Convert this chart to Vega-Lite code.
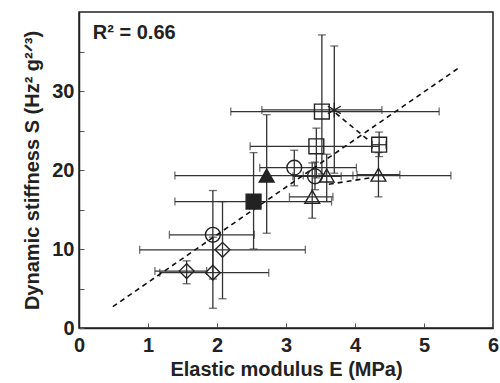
{
  "$schema": "https://vega.github.io/schema/vega-lite/v6.json",
  "width": 414,
  "height": 316,
  "autosize": {"type": "none"},
  "padding": {"left": 79, "top": 12, "right": 7, "bottom": 55},
  "background": "white",
  "config": {
    "view": {"stroke": "#222", "strokeWidth": 1.5},
    "font": "Liberation Sans",
    "axis": {
      "grid": false,
      "domainColor": "#222",
      "domainWidth": 1.5,
      "tickColor": "#555",
      "tickSize": -5,
      "tickWidth": 1,
      "labelFlush": false,
      "labelFont": "Liberation Sans",
      "labelFontWeight": "bold",
      "labelFontSize": 20,
      "labelColor": "#222",
      "titleFont": "Liberation Sans",
      "titleFontWeight": "bold",
      "titleFontSize": 20,
      "titleColor": "#222"
    }
  },
  "datasets": {
    "pts": [
      {"x": 1.56, "y": 7.2, "xlo": 1.1, "xhi": 1.85, "ylo": 5.6, "yhi": 8.5, "series": "diamond"},
      {"x": 1.94, "y": 7.0, "xlo": 1.17, "xhi": 2.75, "ylo": 2.5, "yhi": 11.5, "series": "diamond"},
      {"x": 1.94, "y": 11.8, "xlo": 1.31, "xhi": 2.54, "ylo": 6.2, "yhi": 17.4, "series": "circle"},
      {"x": 2.08, "y": 9.9, "xlo": 0.88, "xhi": 3.28, "ylo": 3.7, "yhi": 16.0, "series": "diamond"},
      {"x": 2.53, "y": 16.0, "xlo": 1.39, "xhi": 3.66, "ylo": 10.0, "yhi": 22.2, "series": "filled square"},
      {"x": 2.72, "y": 19.3, "xlo": 1.39, "xhi": 5.39, "ylo": 12.0, "yhi": 27.0, "series": "filled triangle"},
      {"x": 3.12, "y": 20.3, "xlo": 2.62, "xhi": 4.02, "ylo": 18.0, "yhi": 22.5, "series": "circle"},
      {"x": 3.52, "y": 27.4, "xlo": 2.2, "xhi": 5.22, "ylo": 19.5, "yhi": 37.1, "series": "open square"},
      {"x": 3.70, "y": 27.6, "xlo": 2.65, "xhi": 4.39, "ylo": 19.6, "yhi": 35.7, "series": "star"},
      {"x": 3.44, "y": 23.0, "xlo": 2.48, "xhi": 4.35, "ylo": 19.0, "yhi": 25.3, "series": "open square"},
      {"x": 4.35, "y": 23.2, "xlo": 4.25, "xhi": 4.45, "ylo": 21.7, "yhi": 24.8, "series": "open square"},
      {"x": 4.34, "y": 19.4, "xlo": 4.03, "xhi": 4.65, "ylo": 16.6, "yhi": 22.2, "series": "open triangle"},
      {"x": 3.38, "y": 16.6, "xlo": 3.05, "xhi": 3.68, "ylo": 13.9, "yhi": 20.9, "series": "open triangle"},
      {"x": 3.59, "y": 19.3, "xlo": 3.25, "xhi": 3.97, "ylo": 16.0, "yhi": 22.0, "series": "open triangle"},
      {"x": 3.42, "y": 19.2, "xlo": 3.1, "xhi": 3.8, "ylo": 17.5, "yhi": 21.0, "series": "circle"}
    ],
    "lines": [
      {"x": 0.49, "y": 2.7, "seg": "fit"},
      {"x": 5.5, "y": 32.9, "seg": "fit"},
      {"x": 3.72, "y": 27.2, "seg": "a"},
      {"x": 4.22, "y": 23.6, "seg": "a"},
      {"x": 3.62, "y": 18.2, "seg": "b"},
      {"x": 4.22, "y": 19.0, "seg": "b"}
    ],
    "note": [{"x": 0.2, "y": 37.3, "label": "R² = 0.66"}]
  },
  "layer": [
    {
      "data": {"name": "pts"},
      "mark": {"type": "rule", "color": "#333", "strokeWidth": 1.3},
      "encoding": {
        "x": {"field": "xlo", "type": "quantitative", "scale": {"domain": [0, 6], "nice": false},
          "axis": {"values": [0, 0.5, 1, 1.5, 2, 2.5, 3, 3.5, 4, 4.5, 5, 5.5, 6], "labelExpr": "datum.value % 1 === 0 ? format(datum.value, 'd') : ''", "labelPadding": 12, "title": "Elastic modulus E (MPa)", "titlePadding": 4}},
        "x2": {"field": "xhi"},
        "y": {"field": "y", "type": "quantitative", "scale": {"domain": [0, 40], "nice": false},
          "axis": {"values": [0, 5, 10, 15, 20, 25, 30, 35], "labelExpr": "datum.value % 10 === 0 ? datum.label : ''", "labelPadding": 10, "title": "Dynamic stiffness S (Hz² g²ᐟ³)", "titlePadding": 9}}
      }
    },
    {
      "data": {"name": "pts"},
      "mark": {"type": "rule", "color": "#333", "strokeWidth": 1.3},
      "encoding": {
        "x": {"field": "x", "type": "quantitative"},
        "y": {"field": "ylo", "type": "quantitative"},
        "y2": {"field": "yhi"}
      }
    },
    {
      "data": {"name": "pts"},
      "mark": {"type": "tick", "color": "#333", "orient": "vertical", "size": 8, "thickness": 1.3},
      "encoding": {"x": {"field": "xlo", "type": "quantitative"}, "y": {"field": "y", "type": "quantitative"}}
    },
    {
      "data": {"name": "pts"},
      "mark": {"type": "tick", "color": "#333", "orient": "vertical", "size": 8, "thickness": 1.3},
      "encoding": {"x": {"field": "xhi", "type": "quantitative"}, "y": {"field": "y", "type": "quantitative"}}
    },
    {
      "data": {"name": "pts"},
      "mark": {"type": "tick", "color": "#333", "orient": "horizontal", "size": 8, "thickness": 1.3},
      "encoding": {"x": {"field": "x", "type": "quantitative"}, "y": {"field": "ylo", "type": "quantitative"}}
    },
    {
      "data": {"name": "pts"},
      "mark": {"type": "tick", "color": "#333", "orient": "horizontal", "size": 8, "thickness": 1.3},
      "encoding": {"x": {"field": "x", "type": "quantitative"}, "y": {"field": "yhi", "type": "quantitative"}}
    },
    {
      "data": {"name": "lines"},
      "mark": {"type": "line", "color": "#111", "strokeWidth": 1.6, "strokeDash": [5, 4]},
      "encoding": {
        "x": {"field": "x", "type": "quantitative"},
        "y": {"field": "y", "type": "quantitative"},
        "detail": {"field": "seg"}
      }
    },
    {
      "data": {"name": "pts"},
      "mark": {"type": "point", "stroke": "#222", "strokeWidth": 1.4, "opacity": 1, "size": 220},
      "encoding": {
        "x": {"field": "x", "type": "quantitative"},
        "y": {"field": "y", "type": "quantitative"},
        "shape": {"field": "series", "type": "nominal", "legend": null,
          "scale": {"domain": ["diamond", "circle", "filled square", "filled triangle", "open square", "star", "open triangle"],
            "range": ["diamond", "circle", "square", "triangle-up", "square", "M0,-1L0,1M-0.87,-0.5L0.87,0.5M-0.87,0.5L0.87,-0.5", "triangle-up"]}},
        "fill": {"field": "series", "type": "nominal", "legend": null,
          "scale": {"domain": ["diamond", "circle", "filled square", "filled triangle", "open square", "star", "open triangle"],
            "range": ["transparent", "transparent", "#222", "#222", "transparent", "transparent", "transparent"]}}
      }
    },
    {
      "data": {"name": "note"},
      "mark": {"type": "text", "align": "left", "baseline": "middle", "fontSize": 20, "fontWeight": "bold", "color": "#222", "font": "Liberation Sans"},
      "encoding": {
        "x": {"field": "x", "type": "quantitative"},
        "y": {"field": "y", "type": "quantitative"},
        "text": {"field": "label"}
      }
    }
  ]
}
